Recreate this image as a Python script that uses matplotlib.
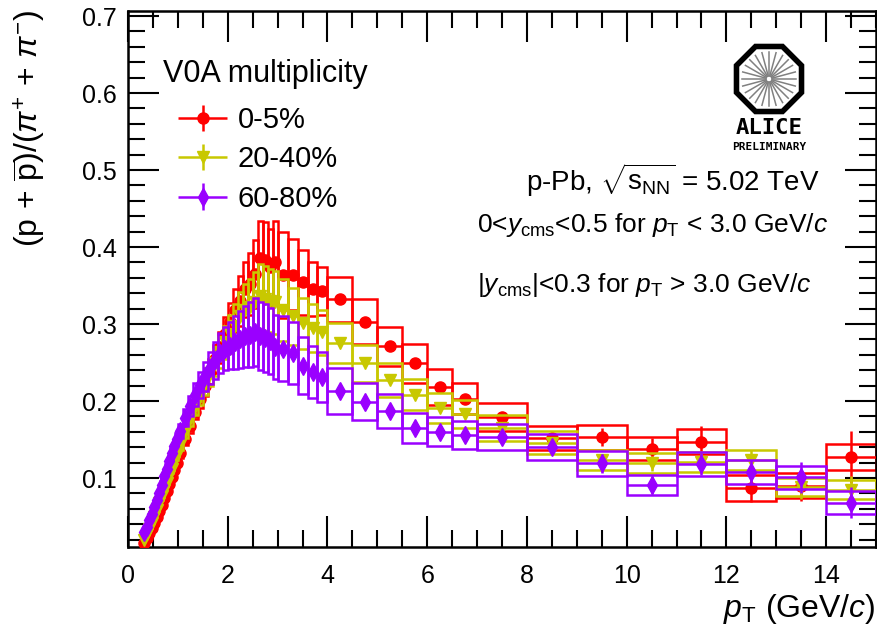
import numpy as np
import matplotlib
matplotlib.use('Agg')
import matplotlib.pyplot as plt
from matplotlib.patches import RegularPolygon
from matplotlib.legend_handler import HandlerErrorbar
from matplotlib.container import ErrorbarContainer

plt.rcParams['font.family'] = ['Liberation Sans', 'DejaVu Sans']
plt.rcParams['mathtext.fontset'] = 'custom'
plt.rcParams['mathtext.rm'] = 'Liberation Sans'
plt.rcParams['mathtext.it'] = 'Liberation Sans:italic'
plt.rcParams['mathtext.bf'] = 'Liberation Sans:bold'

# bin edges in pT (GeV/c)
edges = [0.30, 0.35, 0.40, 0.45, 0.50, 0.55, 0.60, 0.65, 0.70, 0.75, 0.80, 0.85, 0.90, 0.95, 1.00,
         1.10, 1.20, 1.30, 1.40, 1.50, 1.60, 1.70, 1.80, 1.90, 2.00,
         2.10, 2.20, 2.30, 2.40, 2.50, 2.60, 2.70, 2.80, 2.90, 3.00,
         3.20, 3.40, 3.60, 3.80, 4.00,
         4.50, 5.00, 5.50, 6.00, 6.50, 7.00,
         8.0, 9.0, 10.0, 11.0, 12.0, 13.0, 14.0, 15.0]

# 0-5 %
red_val = [0.016, 0.022, 0.028, 0.035, 0.042, 0.049, 0.057, 0.065, 0.074, 0.083, 0.092, 0.101, 0.110, 0.119,
           0.133, 0.151, 0.168, 0.186, 0.203, 0.220, 0.238, 0.255, 0.270, 0.287,
           0.302, 0.318, 0.330, 0.345, 0.352, 0.365, 0.386, 0.383, 0.374, 0.380,
           0.364, 0.364, 0.354, 0.345, 0.343,
           0.332, 0.303, 0.271, 0.249, 0.218, 0.203,
           0.179, 0.152, 0.153, 0.138, 0.147, 0.087, 0.090, 0.127]
red_stat = [0.001, 0.001, 0.001, 0.001, 0.001, 0.001, 0.001, 0.001, 0.001, 0.001, 0.001, 0.001, 0.001, 0.001,
            0.001, 0.001, 0.001, 0.001, 0.001, 0.001, 0.001, 0.001, 0.001, 0.001,
            0.002, 0.002, 0.002, 0.002, 0.002, 0.002, 0.002, 0.002, 0.002, 0.002,
            0.003, 0.003, 0.003, 0.003, 0.003,
            0.003, 0.003, 0.004, 0.004, 0.005, 0.006,
            0.005, 0.008, 0.012, 0.014, 0.020, 0.018, 0.020, 0.034]
red_sys = [0.001, 0.001, 0.0015, 0.002, 0.002, 0.0025, 0.003, 0.003, 0.004, 0.004, 0.005, 0.005, 0.006, 0.006,
           0.007, 0.008, 0.009, 0.010, 0.012, 0.014, 0.016, 0.018, 0.020, 0.022,
           0.025, 0.028, 0.032, 0.036, 0.040, 0.044, 0.048, 0.049, 0.050, 0.054,
           0.056, 0.046, 0.042, 0.035, 0.031,
           0.029, 0.029, 0.025, 0.025, 0.023, 0.020,
           0.018, 0.015, 0.016, 0.015, 0.016, 0.017, 0.016, 0.017]

# 20-40 %
yel_val = [0.020, 0.027, 0.034, 0.042, 0.050, 0.058, 0.067, 0.076, 0.085, 0.094, 0.103, 0.112, 0.121, 0.130,
           0.143, 0.160, 0.176, 0.192, 0.207, 0.222, 0.236, 0.250, 0.263, 0.276,
           0.287, 0.298, 0.310, 0.318, 0.322, 0.328, 0.336, 0.333, 0.330, 0.328,
           0.318, 0.310, 0.301, 0.295, 0.289,
           0.275, 0.249, 0.227, 0.208, 0.191, 0.183,
           0.165, 0.146, 0.123, 0.119, 0.121, 0.123, 0.088, 0.085]
yel_stat = [0.001, 0.001, 0.001, 0.001, 0.001, 0.001, 0.001, 0.001, 0.001, 0.001, 0.001, 0.001, 0.001, 0.001,
            0.001, 0.001, 0.001, 0.001, 0.001, 0.001, 0.001, 0.001, 0.001, 0.001,
            0.002, 0.002, 0.002, 0.002, 0.002, 0.002, 0.002, 0.002, 0.002, 0.002,
            0.002, 0.002, 0.002, 0.003, 0.003,
            0.003, 0.003, 0.003, 0.004, 0.004, 0.005,
            0.004, 0.006, 0.008, 0.010, 0.012, 0.014, 0.015, 0.018]
yel_sys = [0.001, 0.0015, 0.002, 0.002, 0.0025, 0.003, 0.003, 0.004, 0.004, 0.005, 0.005, 0.006, 0.006, 0.007,
           0.007, 0.008, 0.009, 0.010, 0.012, 0.014, 0.016, 0.018, 0.020, 0.022,
           0.025, 0.028, 0.031, 0.034, 0.037, 0.040, 0.042, 0.042, 0.041, 0.041,
           0.040, 0.037, 0.033, 0.031, 0.029,
           0.026, 0.024, 0.022, 0.020, 0.019, 0.018,
           0.017, 0.015, 0.013, 0.013, 0.013, 0.013, 0.012, 0.012]

# 60-80 %
vio_val = [0.030, 0.037, 0.045, 0.053, 0.062, 0.071, 0.080, 0.091, 0.102, 0.112, 0.122, 0.132, 0.142, 0.151,
           0.161, 0.178, 0.194, 0.208, 0.221, 0.232, 0.243, 0.253, 0.262, 0.268,
           0.272, 0.276, 0.280, 0.284, 0.286, 0.290, 0.284, 0.282, 0.278, 0.270,
           0.268, 0.262, 0.246, 0.238, 0.231,
           0.213, 0.199, 0.187, 0.165, 0.160, 0.156,
           0.153, 0.140, 0.119, 0.091, 0.118, 0.108, 0.101, 0.068]
vio_stat = [0.001, 0.001, 0.001, 0.001, 0.001, 0.001, 0.001, 0.001, 0.001, 0.001, 0.001, 0.001, 0.001, 0.001,
            0.001, 0.001, 0.001, 0.001, 0.001, 0.001, 0.001, 0.001, 0.001, 0.001,
            0.002, 0.002, 0.002, 0.002, 0.002, 0.002, 0.002, 0.002, 0.002, 0.002,
            0.003, 0.003, 0.003, 0.003, 0.003,
            0.003, 0.003, 0.004, 0.004, 0.005, 0.005,
            0.005, 0.008, 0.012, 0.012, 0.014, 0.016, 0.020, 0.020]
vio_sys = [0.0015, 0.002, 0.002, 0.003, 0.003, 0.004, 0.004, 0.005, 0.005, 0.006, 0.006, 0.007, 0.007, 0.008,
           0.009, 0.011, 0.013, 0.015, 0.017, 0.019, 0.021, 0.024, 0.026, 0.028,
           0.031, 0.034, 0.037, 0.040, 0.042, 0.044, 0.044, 0.044, 0.043, 0.042,
           0.042, 0.040, 0.037, 0.034, 0.032,
           0.030, 0.024, 0.022, 0.020, 0.019, 0.018,
           0.017, 0.017, 0.016, 0.013, 0.016, 0.016, 0.015, 0.015]

labels = ['0-5%', '20-40%', '60-80%']
colors = ['#ff0000', '#c8c800', '#9a00ff']
markers = ['o', 'v', 'd']
msizes = [8, 9, 9]

e = np.array(edges)
cen = 0.5 * (e[:-1] + e[1:])
half = 0.5 * (e[1:] - e[:-1])

fig = plt.figure(figsize=(8.77, 6.38), dpi=100)
ax = fig.add_axes([128 / 877, 91 / 638, 748 / 877, 536 / 638])

handles = []
series = [(red_val, red_stat, red_sys), (yel_val, yel_stat, yel_sys), (vio_val, vio_stat, vio_sys)]
for i, (v, st, sy) in enumerate(series):
    v = np.array(v)
    sy = np.array(sy)
    ax.bar(e[:-1], 2 * sy, width=2 * half, bottom=v - sy, align='edge', fill=False,
           edgecolor=colors[i], linewidth=1.8, zorder=2 + 2 * i)
    h = ax.errorbar(cen, v, xerr=half, yerr=st, fmt=markers[i], color=colors[i],
                    ms=msizes[i], elinewidth=1.8, capsize=0, zorder=3 + 2 * i)
    handles.append(h)

ax.set_xlim(0, 15)
ax.set_ylim(0.0104, 0.7065)
ax.set_xticks(np.arange(0, 15, 2))
ax.set_xticks(np.arange(0, 15.01, 0.5), minor=True)
ax.set_yticks(np.arange(0.1, 0.71, 0.1))
ax.set_yticks(np.arange(0.02, 0.705, 0.02), minor=True)
ax.set_xticklabels([str(t) for t in range(0, 15, 2)])
ax.set_yticklabels(['0.1', '0.2', '0.3', '0.4', '0.5', '0.6', '0.7'])
ax.tick_params(which='both', direction='in', top=True, right=True, width=1.5, labelsize=18)
ax.tick_params(which='major', length=22)
ax.tick_params(which='minor', length=12)
ax.tick_params(axis='x', pad=12)
ax.tick_params(axis='y', pad=8)
for s in ax.spines.values():
    s.set_linewidth(1.8)

fig.text(875 / 877, 1 - 609 / 638, r'$p_{\mathrm{T}}$ (GeV/$c$)', ha='right', va='center', fontsize=23)
fig.text(30 / 877, 1 - 10 / 638, r'$(\mathrm{p}\,+\,\overline{\mathrm{p}})/(\pi^{+}\,+\,\pi^{-})$',
         rotation=90, ha='center', va='top', fontsize=23)

fig.text(163 / 877, 1 - 74 / 638, 'V0A multiplicity', ha='left', va='center', fontsize=22)
leg = ax.legend(handles, labels, loc='upper left',
                bbox_to_anchor=(178 / 877, 1 - 106 / 638), bbox_transform=fig.transFigure,
                frameon=False, fontsize=21, borderaxespad=0, borderpad=0,
                handlelength=1.69, handletextpad=0.35, labelspacing=0.39,
                handler_map={ErrorbarContainer: HandlerErrorbar(xerr_size=0.85, yerr_size=0.45)})

fig.text(820 / 877, 1 - 180 / 638, r'p-Pb, $\sqrt{\mathrm{s}_{\mathrm{NN}}}$ = 5.02 TeV', ha='right', va='center', fontsize=20)
fig.text(477 / 877, 1 - 225 / 638, r'0<$y_{\mathrm{cms}}$<0.5 for $p_{\mathrm{T}}$ < 3.0 GeV/$c$',
         ha='left', va='center', fontsize=19)
fig.text(477 / 877, 1 - 285 / 638, r'|$y_{\mathrm{cms}}$|<0.3 for $p_{\mathrm{T}}$ > 3.0 GeV/$c$',
         ha='left', va='center', fontsize=19)

# ALICE logo
lax = fig.add_axes([(769 - 40) / 877, 1 - (79 + 40) / 638, 80 / 877, 80 / 638])
lax.set_xlim(-1, 1)
lax.set_ylim(-1, 1)
lax.set_aspect('equal')
lax.axis('off')
lax.add_patch(RegularPolygon((0, 0), 8, radius=0.88, orientation=np.pi / 8, fill=False,
                             edgecolor='black', linewidth=4))
for a in np.linspace(0, 2 * np.pi, 24, endpoint=False):
    lax.plot([0.08 * np.cos(a), 0.68 * np.cos(a)], [0.08 * np.sin(a), 0.68 * np.sin(a)],
             color='#808080', lw=1.1)
fig.text(769 / 877, 1 - 128 / 638, 'ALICE', ha='center', va='center', fontsize=16,
         family='DejaVu Sans Mono', weight='bold')
fig.text(769 / 877, 1 - 147 / 638, 'PRELIMINARY', ha='center', va='center', fontsize=8,
         family='DejaVu Sans Mono', weight='bold')

fig.savefig('out.png', dpi=100)
